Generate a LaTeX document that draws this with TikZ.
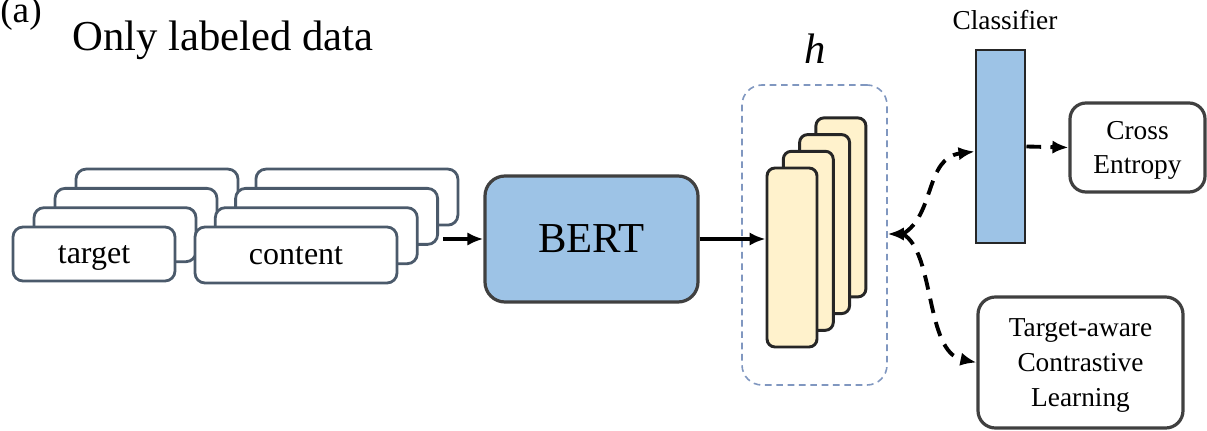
\documentclass[tikz,border=0pt]{standalone}
\usepackage{fontspec}
\setmainfont{Liberation Serif}
\usetikzlibrary{arrows.meta,calc}

\definecolor{bertblue}{HTML}{9DC3E6}
\definecolor{hyellow}{HTML}{FFF2CC}
\definecolor{boxedge}{HTML}{404040}
\definecolor{inedge}{HTML}{4B5A6B}
\definecolor{dashblue}{HTML}{8097C0}

\begin{document}
\begin{tikzpicture}[
  x=0.75pt, y=-0.75pt,
  sz/.style 2 args={minimum width=#1*0.75pt, minimum height=#2*0.75pt},
  inbox/.style={draw=inedge, line width=2.1pt, fill=white, rounded corners=7.5pt,
    inner sep=0pt, text depth=0pt, font=\fontsize{24}{28}\selectfont},
  hlayer/.style={draw=black!85, line width=2.2pt, fill=hyellow, rounded corners=6pt, inner sep=0pt},
  hgroup/.style={draw=dashblue, line width=1.2pt, dash pattern=on 5pt off 3.5pt,
    rounded corners=15pt, inner sep=0pt},
  rbox/.style={draw=boxedge, line width=2.4pt, fill=white, rounded corners=12pt,
    inner sep=0pt, align=center, text depth=0pt, font=\fontsize{20.5}{26}\selectfont},
  arr/.style={line width=2.5pt, -{Latex[length=12pt,width=10pt]}},
  dashcurve/.style={line width=2.9pt, dash pattern=on 11pt off 7pt}
]
\useasboundingbox (0,0) rectangle (1207,431);

% headings
\node[anchor=base west, inner sep=0pt, font=\fontsize{28}{34}\selectfont] (tag) at (0,23) {(a)};
\node[anchor=base west, inner sep=0pt, font=\fontsize{32}{38}\selectfont] (title) at (72,51) {Only labeled data};

% stacked input sequences, back to front
\foreach \k in {3,2,1} {
  \node[inbox, sz={162}{54}] (t\k) at ({94+21*\k},{254-19.3*\k}) {};
  \node[inbox, sz={202}{56}] (c\k) at ({296+20.3*\k},{255-19.3*\k}) {};
}
\node[inbox, sz={162}{54}] (t0) at (94,254) {target};
\node[inbox, sz={202}{56}] (c0) at (296,255) {content};

% encoder
\node[draw=boxedge, line width=2.4pt, fill=bertblue, rounded corners=15pt, sz={213}{126},
  inner sep=0pt, font=\fontsize{32}{38}\selectfont] (bert) at (591.5,239) {BERT};

% hidden representations
\node[hgroup, sz={145}{300}] (hb) at (814.5,235) {};
\foreach \k in {3,2,1}
  \node[hlayer, sz={50}{179}] (h\k) at ({792+16.3*\k},{257.5-16.7*\k}) {};
\node[hlayer, sz={50}{179}] (h0) at (792,257.5) {};
\node[anchor=base, inner sep=0pt, font=\fontsize{32}{38}\selectfont\itshape] (hl) at (815,64) {h};

% classifier and objectives
\node[draw=black!85, line width=2.2pt, fill=bertblue, sz={49}{193}, inner sep=0pt] (cls) at (1000.5,146.5) {};
\node[anchor=base, inner sep=0pt, font=\fontsize{20.5}{26}\selectfont] (clsl) at (1005,30) {Classifier};
\node[rbox, sz={135}{89}] (ce) at (1137.5,147.5) {Cross\\Entropy};
\node[rbox, sz={205}{131}, rounded corners=13pt] (tcl) at (1080.5,362.5) {Target-aware\\Contrastive\\Learning};

% connectors
\draw[arr] ($(c2.east |- bert.west)+(4,0)$) -- (bert.west);
\draw[arr] (bert.east) -- (bert.east -| h0.west);
\coordinate (fork) at ($(hb.east)+(15,-1)$);
\draw[arr] (fork) -- (fork -| hb.east);
\draw[arr, dashcurve] (fork) .. controls (935,215) and (925,158) .. ($(cls.west)+(0,5)$);
\draw[arr, dashcurve] (fork) .. controls (935,252) and (925,352) .. (tcl.west);
\draw[arr, dashcurve] (cls.east) -- (ce.west);
\end{tikzpicture}
\end{document}
